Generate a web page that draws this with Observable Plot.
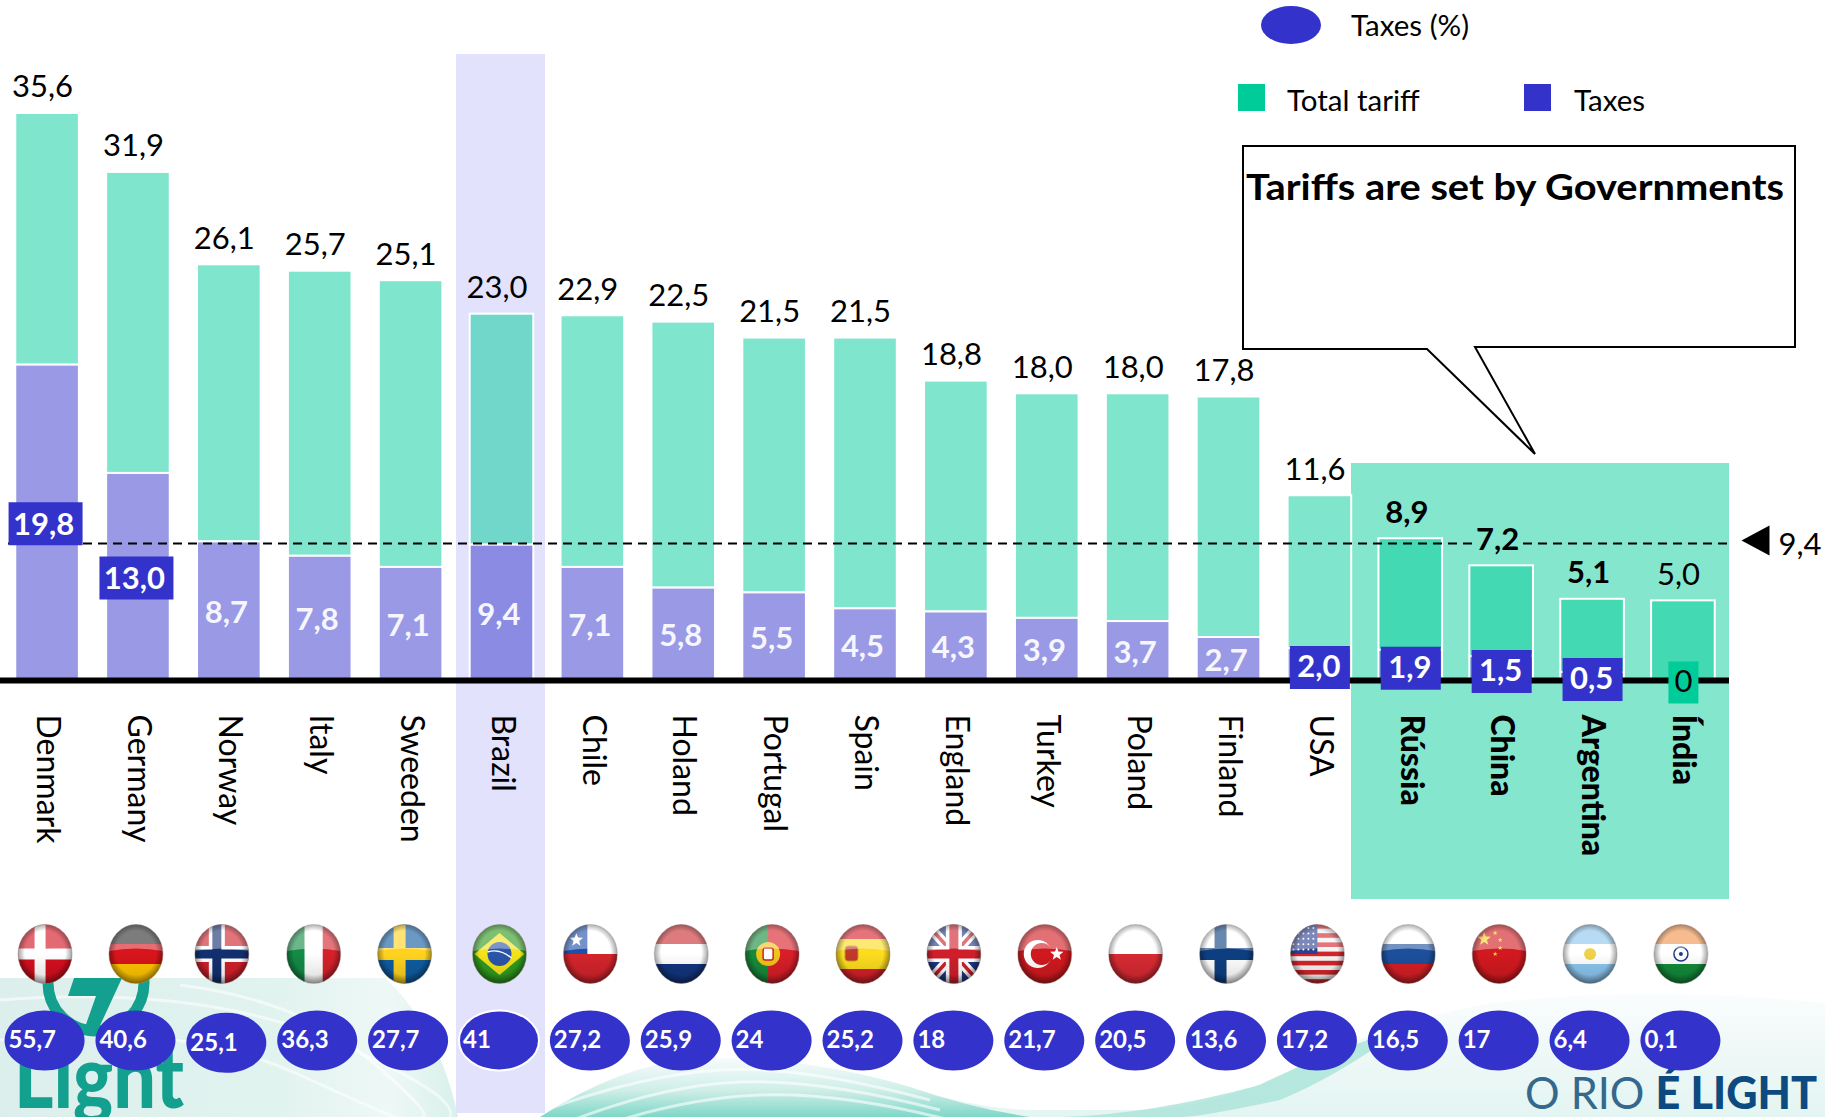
<!DOCTYPE html>
<html>
<head>
<meta charset="utf-8">
<style>html,body{margin:0;padding:0;background:#fff;overflow:hidden}</style>
<script src="https://cdn.jsdelivr.net/npm/d3@7"></script>
<script src="https://cdn.jsdelivr.net/npm/@observablehq/plot@0.6"></script>
</head>
<body>
<script>
const countries = ["Denmark","Germany","Norway","Italy","Sweeden","Brazil","Chile","Holand","Portugal","Spain","England","Turkey","Poland","Finland","USA","Rússia","China","Argentina","Índia"];
const totals = [35.6,31.9,26.1,25.7,25.1,23.0,22.9,22.5,21.5,21.5,18.8,18.0,18.0,17.8,11.6,8.9,7.2,5.1,5.0];
const totalLabels = ["35,6","31,9","26,1","25,7","25,1","23,0","22,9","22,5","21,5","21,5","18,8","18,0","18,0","17,8","11,6","8,9","7,2","5,1","5,0"];
// Brazil's tax segment and the dashed reference are drawn lower than their 9,4 label in the source picture
const taxes = [19.8,13.0,8.7,7.8,7.1,8.5,7.1,5.8,5.5,4.5,4.3,3.9,3.7,2.7,2.0,1.9,1.5,0.5,0];
const taxLabels = ["19,8","13,0","8,7","7,8","7,1","9,4","7,1","5,8","5,5","4,5","4,3","3,9","3,7","2,7","2,0","1,9","1,5","0,5","0"];
const taxShare = ["55,7","40,6","25,1","36,3","27,7","41","27,2","25,9","24","25,2","18","21,7","20,5","13,6","17,2","16,5","17","6,4","0,1"];
const referenceDrawn = 8.6;
const referenceLabel = "9,4";
const boldCountries = ["Rússia","China","Argentina","Índia"];
const boldTotals = ["Rússia","China","Argentina"];
const wideBoxes = ["Denmark","Germany"];
const lowBoxes = ["USA","Rússia","China","Argentina"];
const zeroBox = ["Índia"];

const rows = countries.map((c,i)=>({country:c,total:totals[i],tax:taxes[i],totalLabel:totalLabels[i],taxLabel:taxLabels[i],share:taxShare[i]}));
const BLUE="#3333cc", GREEN="#00cc99", PANEL="#84e6cd";
const FONT="Lato, Carlito, sans-serif";

const boxSym=(w,h)=>({draw(c){c.rect(-w/2,-h/2,w,h);}});
const ellipseSym=(rx,ry)=>({draw(c){const k=.5523;c.moveTo(-rx,0);
  c.bezierCurveTo(-rx,-ry*k,-rx*k,-ry,0,-ry);c.bezierCurveTo(rx*k,-ry,rx,-ry*k,rx,0);
  c.bezierCurveTo(rx,ry*k,rx*k,ry,0,ry);c.bezierCurveTo(-rx*k,ry,-rx,ry*k,-rx,0);c.closePath();}});
const triSym={draw(c){c.moveTo(-14,0);c.lineTo(14,-15);c.lineTo(14,15);c.closePath();}};

const deco=fn=>(index,scales,values,dims,ctx)=>d3.create("svg:g").attr("text-anchor","start").html(fn(scales)).node();

// flag artwork, in a box of -27..27 x -30..30
const R=(x,y,w,h,f)=>`<rect x="${x}" y="${y}" width="${w}" height="${h}" fill="${f}"/>`;
const star=(x,y,r,f)=>{let p=[];for(let i=0;i<10;i++){const a=-Math.PI/2+i*Math.PI/5,q=i%2?r*.42:r;p.push((x+q*Math.cos(a)).toFixed(1)+","+(y+q*Math.sin(a)).toFixed(1));}return `<polygon points="${p.join(" ")}" fill="${f}"/>`;};
const cross=(bg,a,cx,ah,b,bh)=>R(-27,-30,54,60,bg)+R(cx-ah,-30,ah*2,60,a)+R(-27,-ah,54,ah*2,a)+(b?R(cx-bh,-30,bh*2,60,b)+R(-27,-bh,54,bh*2,b):"");
const usaStripes=()=>{let s=R(-27,-30,54,60,"#f3f3f3");for(let i=0;i<7;i++)s+=R(-27,-30+i*9.2,54,4.6,"#d2232a");s+=R(-27,-30,27,30,"#2b3f8f");for(let j=0;j<5;j++)for(let i=0;i<5;i++)s+=`<circle cx="${-24+i*5}" cy="${-26+j*5.4}" r="1" fill="#fff"/>`;return s;};
const flags={
 "Denmark":cross("#d20f1e","#fff",-5,5.5),
 "Germany":R(-27,-30,54,20,"#2d2d2d")+R(-27,-10,54,20,"#d8141c")+R(-27,10,54,20,"#ffc400"),
 "Norway":cross("#cf1f2a","#fff",-5,8,"#12306f",4.5),
 "Italy":R(-27,-30,18,60,"#138a45")+R(-9,-30,18,60,"#fff")+R(9,-30,18,60,"#d4212a"),
 "Sweeden":cross("#0f5ca0","#ffd21f",-5,6),
 "Brazil":R(-27,-30,54,60,"#2f9a1d")+`<polygon points="0,-21 25,0 0,21 -25,0" fill="#f4e21a"/><circle r="12" fill="#2a55a8"/><path d="M-12 -2Q0 -6 12 4" stroke="#fff" stroke-width="1.4" fill="none"/>`,
 "Chile":R(-27,-30,54,30,"#fff")+R(-27,-30,24,30,"#1f4fa8")+R(-27,0,54,30,"#d4242c")+star(-14,-14,7,"#fff"),
 "Holand":R(-27,-30,54,20,"#c92a30")+R(-27,-10,54,20,"#fff")+R(-27,10,54,20,"#12357f"),
 "Portugal":R(-27,-30,54,60,"#d81e28")+R(-27,-30,23,60,"#178a3a")+`<circle cx="-4" cy="0" r="12" fill="#f0c419"/><rect x="-9" y="-6" width="10" height="12" rx="2" fill="#fff" stroke="#c22" stroke-width="1.5"/>`,
 "Spain":R(-27,-30,54,60,"#d32028")+R(-27,-15,54,30,"#fbdc1e")+`<rect x="-18" y="-8" width="13" height="15" rx="3" fill="#c0392b" stroke="#c9951f"/>`,
 "England":R(-27,-30,54,60,"#1f3686")+`<path d="M-27 -30L27 30M27 -30L-27 30" stroke="#fff" stroke-width="10"/><path d="M-27 -30L27 30M27 -30L-27 30" stroke="#cf1f2a" stroke-width="3.5"/>`+cross("none","#fff",0,8,"#cf1f2a",4.5),
 "Turkey":R(-27,-30,54,60,"#d0191f")+`<circle cx="-7" cy="0" r="14" fill="#fff"/><circle cx="-3" cy="0" r="11" fill="#d0191f"/>`+star(12,0,7,"#fff"),
 "Poland":R(-27,-30,54,30,"#fff")+R(-27,0,54,30,"#d62a32"),
 "Finland":cross("#fff","#0d3f80",-6,6),
 "USA":usaStripes(),
 "Rússia":R(-27,-30,54,20,"#fff")+R(-27,-10,54,20,"#1d4f9c")+R(-27,10,54,20,"#d41f25"),
 "China":R(-27,-30,54,60,"#d2191f")+star(-15,-15,7,"#f6d328")+star(-4,-21,2.5,"#f6d328")+star(1,-14,2.5,"#f6d328")+star(1,-6,2.5,"#f6d328")+star(-4,0,2.5,"#f6d328"),
 "Argentina":R(-27,-30,54,60,"#8cc6ee")+R(-27,-10,54,20,"#fff")+`<circle r="6" fill="#f0d24a"/>`,
 "Índia":R(-27,-30,54,20,"#f0914a")+R(-27,-10,54,20,"#fff")+R(-27,10,54,20,"#138a3a")+`<circle r="7" fill="none" stroke="#1f3a8a" stroke-width="1.5"/><circle r="2" fill="#1f3a8a"/>`
};
const flagNudge={Norway:-5,Italy:-4,Sweeden:-4};

const background=deco(()=>`
 <defs>
  <linearGradient id="leftBg" x1="0" x2="1" y1="0" y2="0"><stop offset="0" stop-color="#dcefec"/><stop offset=".6" stop-color="#e1f3ef"/><stop offset=".85" stop-color="#eef8f6"/><stop offset="1" stop-color="#d8f0eb"/></linearGradient>
  <linearGradient id="swoosh" x1="0" x2="0" y1="0" y2="1"><stop offset="0" stop-color="#f7fcfb"/><stop offset=".55" stop-color="#cfeee8"/><stop offset="1" stop-color="#7ed7c7"/></linearGradient>
  <linearGradient id="rightBg" x1="0" x2="0" y1="0" y2="1"><stop offset="0" stop-color="#fafdfd"/><stop offset=".5" stop-color="#eef8f7"/><stop offset="1" stop-color="#e3f5f2"/></linearGradient>
  <clipPath id="logoClip"><rect x="0" y="978" width="400" height="139"/></clipPath>
  <clipPath id="swooshClip"><path d="M540 1117Q620 1065 696 1058Q800 1055 910 1087Q970 1108 1030 1117Z"/></clipPath>
 </defs>
 <path d="M0 978H385Q440 1030 458 1117H0Z" fill="url(#leftBg)"/>
 <g fill="none" stroke="#fff" stroke-opacity=".55" stroke-width="3">
  <path d="M0 1000Q200 985 330 1040T450 1117"/><path d="M0 1040Q180 1020 300 1075T400 1117"/><path d="M180 985Q300 1000 370 1060T420 1117"/>
 </g>
 <path d="M540 1117Q620 1065 696 1060Q800 1055 910 1087Q970 1108 1030 1110H1143Q1220 1105 1280 1075Q1390 1020 1493 1003Q1640 985 1825 1003V1117Z" fill="url(#rightBg)"/>
 <path d="M540 1117Q620 1065 696 1058Q800 1055 910 1087Q970 1108 1030 1117Z" fill="url(#swoosh)"/>
 <g clip-path="url(#swooshClip)" fill="none" stroke="#fff" stroke-opacity=".6" stroke-width="3">
  <path d="M540 1112Q640 1075 720 1070T930 1100"/><path d="M560 1125Q660 1085 740 1082T940 1110"/><path d="M590 1130Q680 1098 760 1095T950 1120"/>
 </g>
 <path d="M1030 1117Q1130 1120 1260 1085Q1330 1050 1400 1030Q1340 1075 1280 1100Q1200 1117 1180 1117Z" fill="#a9e3d8" opacity=".8"/>
 <g clip-path="url(#logoClip)">
  <circle cx="96" cy="983" r="48" fill="none" stroke="#13a08e" stroke-width="11"/>
  <path d="M74 978H122L98 1030H84L96 996H68Z" fill="#13a08e"/>
 </g>
 <text x="14" y="1108" font-family="${FONT}" font-weight="900" font-size="88" fill="#13a08e" textLength="170" lengthAdjust="spacingAndGlyphs">Light</text>
 <text x="1525" y="1109" font-size="45" font-family="${FONT}" fill="#34688c" textLength="292" lengthAdjust="spacingAndGlyphs">O RIO <tspan font-weight="900" fill="#0d4a80">É LIGHT</tspan></text>
`);

const panels=deco(()=>`
 <rect x="456" y="54" width="89" height="1059" fill="#e2e2fd"/>
 <rect x="1351" y="463" width="378" height="436" fill="${PANEL}"/>
`);

const flagLayer=deco(({x})=>{
 const half=(typeof x.bandwidth==="function"?x.bandwidth():x.bandwidth)/2;
 const defs=`<defs>
  <radialGradient id="rim" cx=".5" cy=".48" r=".52"><stop offset=".72" stop-color="#000" stop-opacity="0"/><stop offset="1" stop-color="#000" stop-opacity=".42"/></radialGradient>
  <linearGradient id="low" x1="0" x2="0" y1="0" y2="1"><stop offset=".5" stop-color="#000" stop-opacity="0"/><stop offset="1" stop-color="#000" stop-opacity=".14"/></linearGradient>
  <clipPath id="flagClip"><ellipse rx="27" ry="29.5"/></clipPath></defs>`;
 return defs+countries.map(c=>`<g transform="translate(${x(c)+half-2+(flagNudge[c]||0)},954)"><g clip-path="url(#flagClip)">${flags[c]}
   <path d="M-27 -30H27V-3Q0 -8 -27 -3Z" fill="#fff" opacity=".38"/>
   <rect x="-27" y="-30" width="54" height="60" fill="url(#low)"/>
   <ellipse rx="27" ry="29.5" fill="url(#rim)"/></g>
   <ellipse rx="27" ry="29.5" fill="none" stroke="#8a7a7a" stroke-opacity=".45"/></g>`).join("");
});

const legendCallout=deco(()=>`
 <ellipse cx="1291" cy="25" rx="30" ry="19" fill="${BLUE}"/>
 <text x="1351" y="36" font-family="${FONT}" font-size="29.5">Taxes (%)</text>
 <rect x="1238" y="84" width="27" height="27" fill="${GREEN}"/>
 <text x="1287" y="111" font-family="${FONT}" font-size="29.5">Total tariff</text>
 <rect x="1524" y="84" width="27" height="27" fill="${BLUE}"/>
 <text x="1574" y="111" font-family="${FONT}" font-size="29.5">Taxes</text>
 <path d="M1243 146H1795V347H1475L1535 454L1427 349H1243Z" fill="#fff" stroke="#000" stroke-width="2"/>
 <text x="1246" y="200" font-family="${FONT}" font-weight="700" font-size="36" textLength="538" lengthAdjust="spacingAndGlyphs">Tariffs are set by Governments</text>
`);

const belowY=-22.6; // ellipse row, in y-scale units below the baseline
const t=(o)=>Object.assign({fontFamily:FONT},o);
const inBar=rows.filter(r=>!zeroBox.includes(r.country)&&!wideBoxes.includes(r.country)&&!lowBoxes.includes(r.country));

const chart=Plot.plot({
 width:1825,height:1117,margin:0,
 style:{background:"transparent",color:"#000",fontFamily:FONT},
 x:{type:"band",domain:countries,range:[-12,1742],padding:.3,round:false,axis:null},
 y:{domain:[0,35.6],range:[680,113],axis:null},
 marks:[
  background,
  panels,
  Plot.barY(rows,{x:"country",y1:"tax",y2:"total",fill:GREEN,fillOpacity:.5,stroke:"#fff",strokeWidth:2}),
  Plot.barY(rows.filter(r=>r.tax>0),{x:"country",y1:0,y2:"tax",fill:BLUE,fillOpacity:.5,stroke:"#fff",strokeWidth:2}),
  Plot.ruleY([0],{stroke:"#000",strokeWidth:6,insetRight:96}),
  Plot.ruleY([referenceDrawn],{stroke:"#000",strokeWidth:2,strokeDasharray:"9 6",insetLeft:8,insetRight:93}),
  Plot.dot(rows.filter(r=>wideBoxes.includes(r.country)),{x:"country",y:r=>r.tax/2,dy:1,fill:BLUE,dx:-2,symbol:boxSym(74,43)}),
  Plot.dot(rows.filter(r=>lowBoxes.includes(r.country)),{x:"country",y:r=>r.tax/2,dy:3,fill:BLUE,symbol:boxSym(60,43)}),
  Plot.dot(rows.filter(r=>zeroBox.includes(r.country)),{x:"country",y:"tax",dy:2,fill:GREEN,symbol:boxSym(30,42)}),
  // total labels
  Plot.text(rows.filter(r=>!boldTotals.includes(r.country)),t({x:"country",y:"total",text:"totalLabel",dx:-5,dy:-26,fontSize:31,fill:"#000"})),
  Plot.text(rows.filter(r=>boldTotals.includes(r.country)),t({x:"country",y:"total",text:"totalLabel",dx:-4,dy:-26,fontSize:31,fontWeight:700,fill:"#000",stroke:r=>r.country==="China"?PANEL:"none",strokeWidth:10})),
  // tax labels
  Plot.text(inBar,t({x:"country",y:r=>r.tax/2,text:"taxLabel",dx:-3,dy:2,fontSize:31,fontWeight:700,fill:"#f6f6ff"})),
  Plot.text(rows.filter(r=>wideBoxes.includes(r.country)),t({x:"country",y:r=>r.tax/2,text:"taxLabel",dx:-4,dy:2,fontSize:31,fontWeight:700,fill:"#fff"})),
  Plot.text(rows.filter(r=>lowBoxes.includes(r.country)),t({x:"country",y:r=>r.tax/2,text:"taxLabel",dy:3,dx:-1,fontSize:31,fontWeight:700,fill:"#fff"})),
  Plot.text(rows.filter(r=>zeroBox.includes(r.country)),t({x:"country",y:"tax",text:"taxLabel",dy:2,fontSize:31,fill:"#000"})),
  // category labels
  Plot.text(countries.filter(c=>!boldCountries.includes(c)),t({x:d=>d,y:()=>0,text:d=>d,rotate:90,textAnchor:"start",dy:34,fontSize:32,fill:"#000"})),
  Plot.text(boldCountries,t({x:d=>d,y:()=>0,text:d=>d,rotate:90,textAnchor:"start",dy:34,fontSize:32,fontWeight:900,fill:"#000"})),
  flagLayer,
  // tax share ellipses
  Plot.dot(rows,{x:"country",y:r=>r.country==="Norway"?belowY-.15:belowY,dx:-3,fill:BLUE,symbol:ellipseSym(40,30),stroke:r=>r.country==="Brazil"?"#fff":"none",strokeWidth:2}),
  Plot.text(rows,t({x:"country",y:r=>r.country==="Norway"?belowY-.15:belowY,text:"share",dx:-39,textAnchor:"start",fontSize:24,fontWeight:700,fill:"#fff"})),
  // reference marker
  Plot.dot([referenceDrawn],{y:d=>d,frameAnchor:"left",dx:1755,dy:-3,fill:"#000",symbol:triSym}),
  Plot.text([referenceLabel],t({y:()=>referenceDrawn,text:d=>d,frameAnchor:"left",dx:1778,dy:2,textAnchor:"start",fontSize:31,fill:"#000"})),
  legendCallout
 ]
});
document.body.appendChild(chart);
</script>
</body>
</html>
